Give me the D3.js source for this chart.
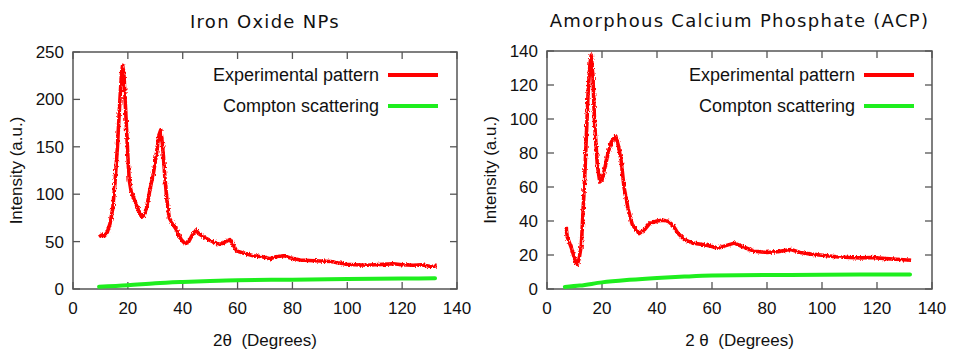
<!DOCTYPE html>
<html>
<head>
<meta charset="utf-8">
<script src="https://cdn.jsdelivr.net/npm/d3@7"></script>
<style>
  html, body { margin: 0; padding: 0; background: #fff; }
  svg { display: block; }
  .tick-label { font-family: "Liberation Sans", Arial, sans-serif; font-size: 17px; fill: #111; }
  .title { font-family: "DejaVu Sans", Verdana, sans-serif; font-size: 18px; letter-spacing: 1.3px; fill: #111; }
  .axis-title { font-family: "Liberation Sans", Arial, sans-serif; font-size: 17px; fill: #111; }
  .legend { font-family: "Liberation Sans", Arial, sans-serif; font-size: 18px; fill: #111; }
</style>
</head>
<body>
<svg id="chart" width="958" height="352"></svg>
<script>
// ---- Iron oxide nanoparticles: 2θ (deg) and intensity (a.u.)
const ironTheta = [9.5, 10.5, 11.5, 12.5, 13.5, 14.5, 15.3, 16.2, 17.1, 17.7, 18.1, 18.6, 19.3, 20, 20.5, 21.2, 22, 23.5, 25, 26, 27, 28, 29.3, 30.3, 31.3, 32, 32.7, 33.5, 34.3, 35.1, 36.5, 37.8, 39.5, 40.8, 42, 43.5, 44.8, 46, 48.7, 51, 53.6, 55, 57.2, 58.5, 59.7, 62, 65.7, 69, 71.8, 74, 76.7, 79, 82.8, 86, 90, 94, 97, 99.8, 103, 107, 110, 113, 116.8, 120, 124, 127, 130, 132.6];
const ironExp = [55, 57, 56, 60, 69, 85, 112, 150, 199, 228, 236, 225, 182, 140, 115, 103, 97, 86, 76, 78, 88, 104, 122, 140, 162, 168, 150, 118, 92, 75, 68, 62, 52, 48, 49, 57, 62, 58, 53, 50, 47, 49, 52, 46, 40, 38, 35, 34, 32, 34, 35, 33, 30.6, 30, 29.5, 29, 27.5, 26, 25.5, 25, 25.5, 26, 26.7, 25.5, 25, 25.5, 24, 24];
const ironComptonTheta = [9.5, 20, 30, 40, 50, 60, 80, 100, 120, 132];
const ironCompton = [2.4, 3.9, 6, 7.4, 8.5, 9.3, 9.8, 10.5, 11, 11.3];

// ---- Amorphous calcium phosphate
const acpTheta = [7.0, 7.3, 8.9, 10, 10.9, 11.7, 12.5, 13.7, 14.9, 15.6, 16.1, 16.7, 17.3, 18.3, 19.2, 20, 21, 22.2, 23.4, 25, 26, 27, 28, 29.5, 31, 33.5, 35.5, 37.3, 40, 42.2, 44, 45.8, 47.5, 50, 53, 57.2, 60, 62, 65, 68.1, 71, 75.4, 80, 84, 88.7, 92, 96, 100.9, 105, 110, 114, 118, 122, 127, 132.4];
const acpExp = [36.5, 31, 24, 18, 14, 18, 26, 65, 114, 132, 137.6, 125, 98, 73, 63, 64, 71, 80, 86.6, 90, 84, 75, 60, 47, 38, 32.6, 35, 38.5, 40, 40.5, 39.9, 37.5, 33, 29, 27, 26, 25, 24, 25.5, 27, 25, 22.2, 21.5, 22, 23.2, 21.5, 20.5, 19.7, 19, 18.5, 18.3, 18.5, 18, 17.5, 16.9];
const acpComptonTheta = [6.5, 12, 20, 30, 40, 50, 60, 80, 100, 132];
const acpCompton = [1.2, 2, 3.9, 5.4, 6.5, 7.3, 7.9, 8.2, 8.4, 8.6];

const xTicks = [0, 20, 40, 60, 80, 100, 120, 140];
const ironYTicks = [0, 50, 100, 150, 200, 250];
const acpYTicks = [0, 20, 40, 60, 80, 100, 120, 140];

const legendLabels = ["Experimental pattern", "Compton scattering"];
const seriesColors = ["#ff0000", "#1eee1e"];

const svg = d3.select("#chart");

// fine-grained jitter that gives the measured trace its counting-noise texture
const defs = svg.append("defs");
const noise = defs.append("filter").attr("id", "counting-noise")
  .attr("filterUnits", "userSpaceOnUse").attr("x", 0).attr("y", 0)
  .attr("width", 958).attr("height", 352);
noise.append("feTurbulence").attr("type", "fractalNoise")
  .attr("baseFrequency", "0.9 0.35").attr("numOctaves", 2).attr("seed", 4).attr("result", "grain");
noise.append("feDisplacementMap").attr("in", "SourceGraphic").attr("in2", "grain")
  .attr("scale", 3.5).attr("xChannelSelector", "R").attr("yChannelSelector", "G");

function panel(cfg) {
  const x = d3.scaleLinear().domain([0, 140]).range([cfg.left, cfg.right]);
  const y = d3.scaleLinear().domain([0, cfg.yMax]).range([cfg.bottom, cfg.top]);
  const g = svg.append("g");
  const tickLen = 7;

  // inward ticks on all four sides
  const frameColor = "#555";
  xTicks.forEach(t => {
    g.append("line").attr("x1", x(t)).attr("x2", x(t)).attr("y1", cfg.bottom).attr("y2", cfg.bottom - tickLen)
      .attr("stroke", frameColor).attr("stroke-width", 1.3);
    g.append("line").attr("x1", x(t)).attr("x2", x(t)).attr("y1", cfg.top).attr("y2", cfg.top + tickLen)
      .attr("stroke", frameColor).attr("stroke-width", 1.3);
    g.append("text").attr("class", "tick-label").attr("x", x(t)).attr("y", cfg.bottom + 25)
      .attr("text-anchor", "middle").text(t);
  });
  cfg.yTicks.forEach(t => {
    g.append("line").attr("x1", cfg.left).attr("x2", cfg.left + tickLen).attr("y1", y(t)).attr("y2", y(t))
      .attr("stroke", frameColor).attr("stroke-width", 1.3);
    g.append("line").attr("x1", cfg.right).attr("x2", cfg.right - tickLen).attr("y1", y(t)).attr("y2", y(t))
      .attr("stroke", frameColor).attr("stroke-width", 1.3);
    g.append("text").attr("class", "tick-label").attr("x", cfg.left - 9).attr("y", y(t) + 6)
      .attr("text-anchor", "end").text(t);
  });

  // border
  g.append("rect").attr("x", cfg.left).attr("y", cfg.top)
    .attr("width", cfg.right - cfg.left).attr("height", cfg.bottom - cfg.top)
    .attr("fill", "none").attr("stroke", frameColor).attr("stroke-width", 1.5);

  const line = d3.line().x(d => x(d[0])).y(d => y(d[1]));

  const comp = d3.zip(cfg.cTheta, cfg.comp);
  g.append("path").datum(comp).attr("d", line.curve(d3.curveMonotoneX))
    .attr("fill", "none").attr("stroke", seriesColors[1]).attr("stroke-width", 4)
    .attr("stroke-linecap", "round");

  const exp = d3.zip(cfg.theta, cfg.exp);
  g.append("path").datum(exp).attr("d", line.curve(d3.curveLinear))
    .attr("fill", "none").attr("stroke", seriesColors[0]).attr("stroke-width", 3.6)
    .attr("stroke-linejoin", "round").attr("filter", "url(#counting-noise)");

  // legend
  legendLabels.forEach((lab, i) => {
    const ly = cfg.legendY + i * 31;
    g.append("text").attr("class", "legend").attr("x", cfg.legendText).attr("y", ly + 6)
      .attr("text-anchor", "end").text(lab);
    g.append("line").attr("x1", cfg.legendText + 9).attr("x2", cfg.legendText + 59)
      .attr("y1", ly).attr("y2", ly).attr("stroke", seriesColors[i]).attr("stroke-width", 4);
  });

  // titles
  g.append("text").attr("class", "title").attr("x", (cfg.left + cfg.right) / 2).attr("y", cfg.titleY)
    .attr("text-anchor", "middle").text(cfg.title);
  g.append("text").attr("class", "axis-title")
    .attr("transform", `translate(${cfg.yLabelX},${(cfg.top + cfg.bottom) / 2}) rotate(-90)`)
    .attr("text-anchor", "middle").text("Intensity (a.u.)");
  g.append("text").attr("class", "axis-title").attr("x", (cfg.left + cfg.right) / 2).attr("y", 346)
    .attr("text-anchor", "middle").attr("xml:space", "preserve").text(cfg.xLabel);
}

panel({
  left: 73, right: 457, top: 52, bottom: 289, yMax: 250, yTicks: ironYTicks,
  theta: ironTheta, exp: ironExp, cTheta: ironComptonTheta, comp: ironCompton,
  legendText: 379, legendY: 75, title: "Iron Oxide NPs", titleY: 28,
  yLabelX: 22, xLabel: "2θ  (Degrees)"
});
panel({
  left: 547, right: 932, top: 51, bottom: 289, yMax: 140, yTicks: acpYTicks,
  theta: acpTheta, exp: acpExp, cTheta: acpComptonTheta, comp: acpCompton,
  legendText: 855, legendY: 75, title: "Amorphous Calcium Phosphate (ACP)", titleY: 27,
  yLabelX: 496, xLabel: "2 θ  (Degrees)"
});
</script>
</body>
</html>
